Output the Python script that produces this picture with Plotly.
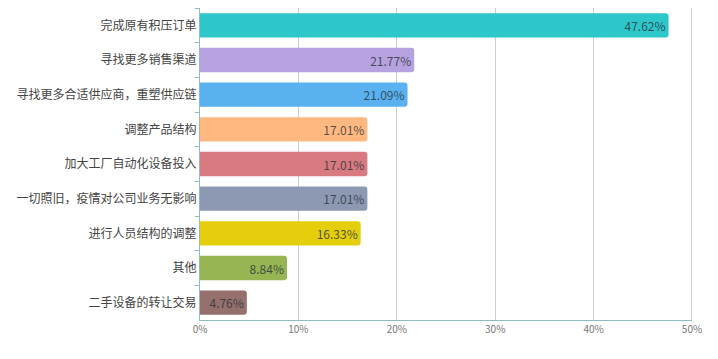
import plotly.graph_objects as go

categories = ["完成原有积压订单", "寻找更多销售渠道", "寻找更多合适供应商，重塑供应链", "调整产品结构",
              "加大工厂自动化设备投入", "一切照旧，疫情对公司业务无影响", "进行人员结构的调整", "其他", "二手设备的转让交易"]
values = [47.62, 21.77, 21.09, 17.01, 17.01, 17.01, 16.33, 8.84, 4.76]
colors = ["#2ec7c9", "#b6a2de", "#5ab1ef", "#ffb980", "#d87a80", "#8d98b3", "#e5cf0d", "#97b552", "#95706d"]
tick_vals = [0, 10, 20, 30, 40, 50]
tick_text = ["0%", "10%", "20%", "30%", "40%", "50%"]

font = "Noto Sans CJK SC"

fig = go.Figure(go.Bar(
    y=categories, x=values, orientation="h",
    marker=dict(color=colors, cornerradius=3, line=dict(width=0)),
    width=0.7,
    text=[f"{v:.2f}%" for v in values],
    textposition="inside", insidetextanchor="end",
    textfont=dict(family=font, size=12, color="rgba(40,50,60,0.8)"),
    cliponaxis=False,
))

# page body has an 8px default margin, so the figure is offset by 8px
fig.update_layout(
    width=702, height=343,
    margin=dict(l=192, r=18, t=0, b=31),
    paper_bgcolor="white", plot_bgcolor="white",
    showlegend=False,
    font=dict(family=font),
    bargap=0.3,
)
fig.update_xaxes(
    range=[0, 50], tickvals=tick_vals, ticktext=tick_text,
    showgrid=True, gridcolor="#c5d0d6", gridwidth=1,
    showline=True, linecolor="#8fbcc2", linewidth=1,
    tickfont=dict(size=10, color="#777"), zeroline=False,
    ticks="", ticklen=0, automargin=False,
)
fig.update_yaxes(
    autorange="reversed",
    showline=True, linecolor="#8fbcc2", linewidth=1,
    ticks="outside", ticklen=4, tickcolor="#8fbcc2",
    tickson="boundaries",
    tickfont=dict(size=12, color="#444"),
    showgrid=False, automargin=False,
)
fig.add_shape(type="line", x0=50, x1=50, y0=0, y1=1, xref="x", yref="paper",
              line=dict(color="#a0a8ad", width=1))

fig.write_html("out.html")
